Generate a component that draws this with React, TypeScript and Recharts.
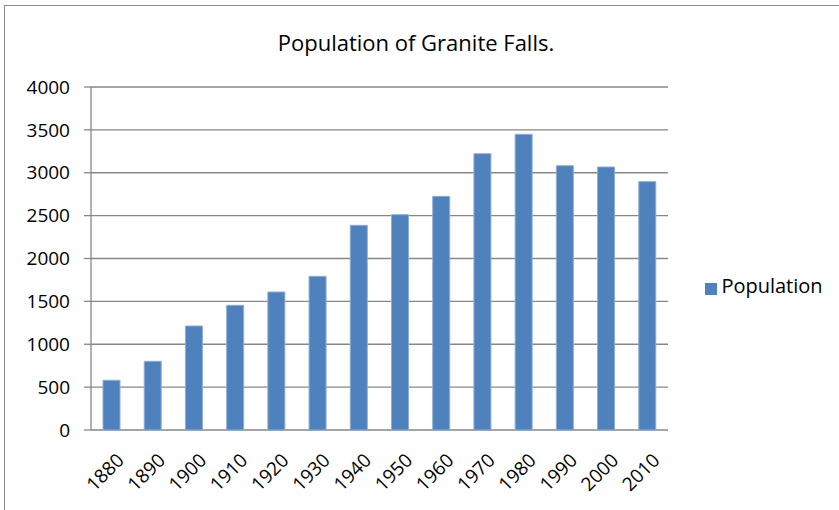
import { BarChart, Bar, XAxis, YAxis, CartesianGrid, Legend } from "recharts";

const years = ["1880", "1890", "1900", "1910", "1920", "1930", "1940", "1950", "1960", "1970", "1980", "1990", "2000", "2010"];
const population = [580, 801, 1213, 1454, 1609, 1792, 2387, 2511, 2725, 3222, 3448, 3082, 3067, 2896];
const yTicks = [0, 500, 1000, 1500, 2000, 2500, 3000, 3500, 4000];
const edgeTicks = [0, 1, 2, 3, 4, 5, 6, 7, 8, 9, 10, 11, 12, 13, 14];

const data = years.map((year, i) => ({ year, population: population[i] }));

const FONT = "'Open Sans', sans-serif";
const GREY = "#878787";

export default function App() {
  return (
    <div style={{ position: "fixed", left: 0, top: 0, width: 839, height: 510, overflow: "hidden", background: "#fff", fontFamily: FONT }}>
      <div style={{ position: "absolute", left: 0, top: 27, width: 832, textAlign: "center", fontSize: 22, color: "#000" }}>
        Population of Granite Falls.
      </div>
      <BarChart
        width={839}
        height={510}
        data={data}
        margin={{ top: 87, right: 171, left: 0, bottom: 0 }}
        style={{ position: "absolute", left: 0, top: 0 }}
      >
        <CartesianGrid vertical={false} stroke={GREY} strokeWidth={1.3} />
        <XAxis
          xAxisId="edges"
          type="number"
          dataKey="idx"
          domain={[0, 14]}
          ticks={edgeTicks}
          height={0}
          tick={false}
          axisLine={{ stroke: GREY, strokeWidth: 1.3 }}
          tickLine={{ stroke: GREY, strokeWidth: 1.3 }}
          tickSize={6}
        />
        <XAxis
          dataKey="year"
          height={80}
          interval={0}
          axisLine={false}
          tickLine={false}
          angle={-45}
          textAnchor="end"
          dx={4}
          tick={{ fontSize: 19, fill: "#000", fontFamily: FONT }}
          tickMargin={16}
        />
        <YAxis
          width={91}
          domain={[0, 4000]}
          ticks={yTicks}
          interval={0}
          axisLine={{ stroke: GREY, strokeWidth: 1.3 }}
          tickLine={{ stroke: GREY, strokeWidth: 1.3 }}
          tickSize={7}
          tickMargin={14}
          tick={{ fontSize: 19, fill: "#000", fontFamily: FONT }}
        />
        <Legend
          layout="horizontal"
          align="center"
          verticalAlign="middle"
          iconType="square"
          iconSize={12}
          formatter={(value) => <span style={{ color: "#000", fontSize: 20, fontFamily: FONT }}>{value}</span>}
          wrapperStyle={{ left: 704, top: 272, width: 130, textAlign: "left" }}
        />
        <Bar
          dataKey="population"
          name="Population"
          fill="#4F81BD"
          stroke="#8EACD6"
          strokeWidth={1}
          barSize={17}
          isAnimationActive={false}
        />
      </BarChart>
      <div style={{ position: "absolute", left: 4, top: 5, width: 835, height: 1, background: "#8c8c8c", zIndex: 5 }} />
      <div style={{ position: "absolute", left: 4, top: 5, width: 1, height: 505, background: "#8c8c8c", zIndex: 5 }} />
    </div>
  );
}
